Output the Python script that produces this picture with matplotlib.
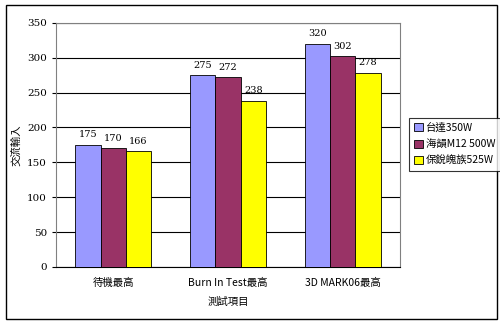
import numpy as np
import matplotlib.pyplot as plt
from matplotlib.patches import Rectangle

plt.rcParams['font.family'] = ['Noto Sans CJK TC', 'DejaVu Sans']

categories = ["待機最高", "Burn In Test最高", "3D MARK06最高"]
series_names = ["台達350W", "海韻M12 500W", "保銳魄族525W"]
delta = [175, 275, 320]
seasonic = [170, 272, 302]
enermax = [166, 238, 278]
colors = ["#9999FF", "#993366", "#FFFF00"]

fig = plt.figure(figsize=(5, 3.22), dpi=100)
fig.patches.append(Rectangle((0.012, 0.008), 0.982, 0.975, transform=fig.transFigure,
                             fill=False, edgecolor="black", linewidth=1.0))
ax = fig.add_axes([0.112, 0.171, 0.688, 0.758])

x = np.arange(len(categories))
w = 0.22
for i, (vals, name, c) in enumerate(zip([delta, seasonic, enermax], series_names, colors)):
    pos = x + (i - 1) * w
    ax.bar(pos, vals, width=w, color=c, edgecolor="black", linewidth=0.6, label=name, zorder=3)
    for p, v in zip(pos, vals):
        ax.text(p, v + 8, str(v), ha="center", va="bottom", fontsize=7, family="DejaVu Serif")

ax.set_xlim(-0.5, 2.5)
ax.set_ylim(0, 350)
ax.set_yticks(range(0, 351, 50))
ax.yaxis.grid(True, color="black", linewidth=0.8, zorder=0)
ax.set_xticks(x)
ax.set_xticklabels(categories, fontsize=7.5)
ax.tick_params(axis="y", labelsize=7.5, length=3)
ax.tick_params(axis="x", length=0, pad=8)
for lbl in ax.get_yticklabels():
    lbl.set_family("DejaVu Serif")
for s in ["top", "right", "left"]:
    ax.spines[s].set_color("#808080")
ax.spines["bottom"].set_color("black")
ax.set_ylabel("交流輸入", fontsize=7.5)
ax.set_xlabel("測試項目", fontsize=7.5, labelpad=6)

leg = fig.legend(loc="upper left", bbox_to_anchor=(0.818, 0.635), fontsize=7.5,
                 frameon=True, fancybox=False, edgecolor="black",
                 handlelength=0.8, handleheight=0.8, handletextpad=0.3,
                 borderpad=0.5, labelspacing=0.6, borderaxespad=0)
leg.get_frame().set_linewidth(0.8)

fig.savefig("out.png", dpi=100)
